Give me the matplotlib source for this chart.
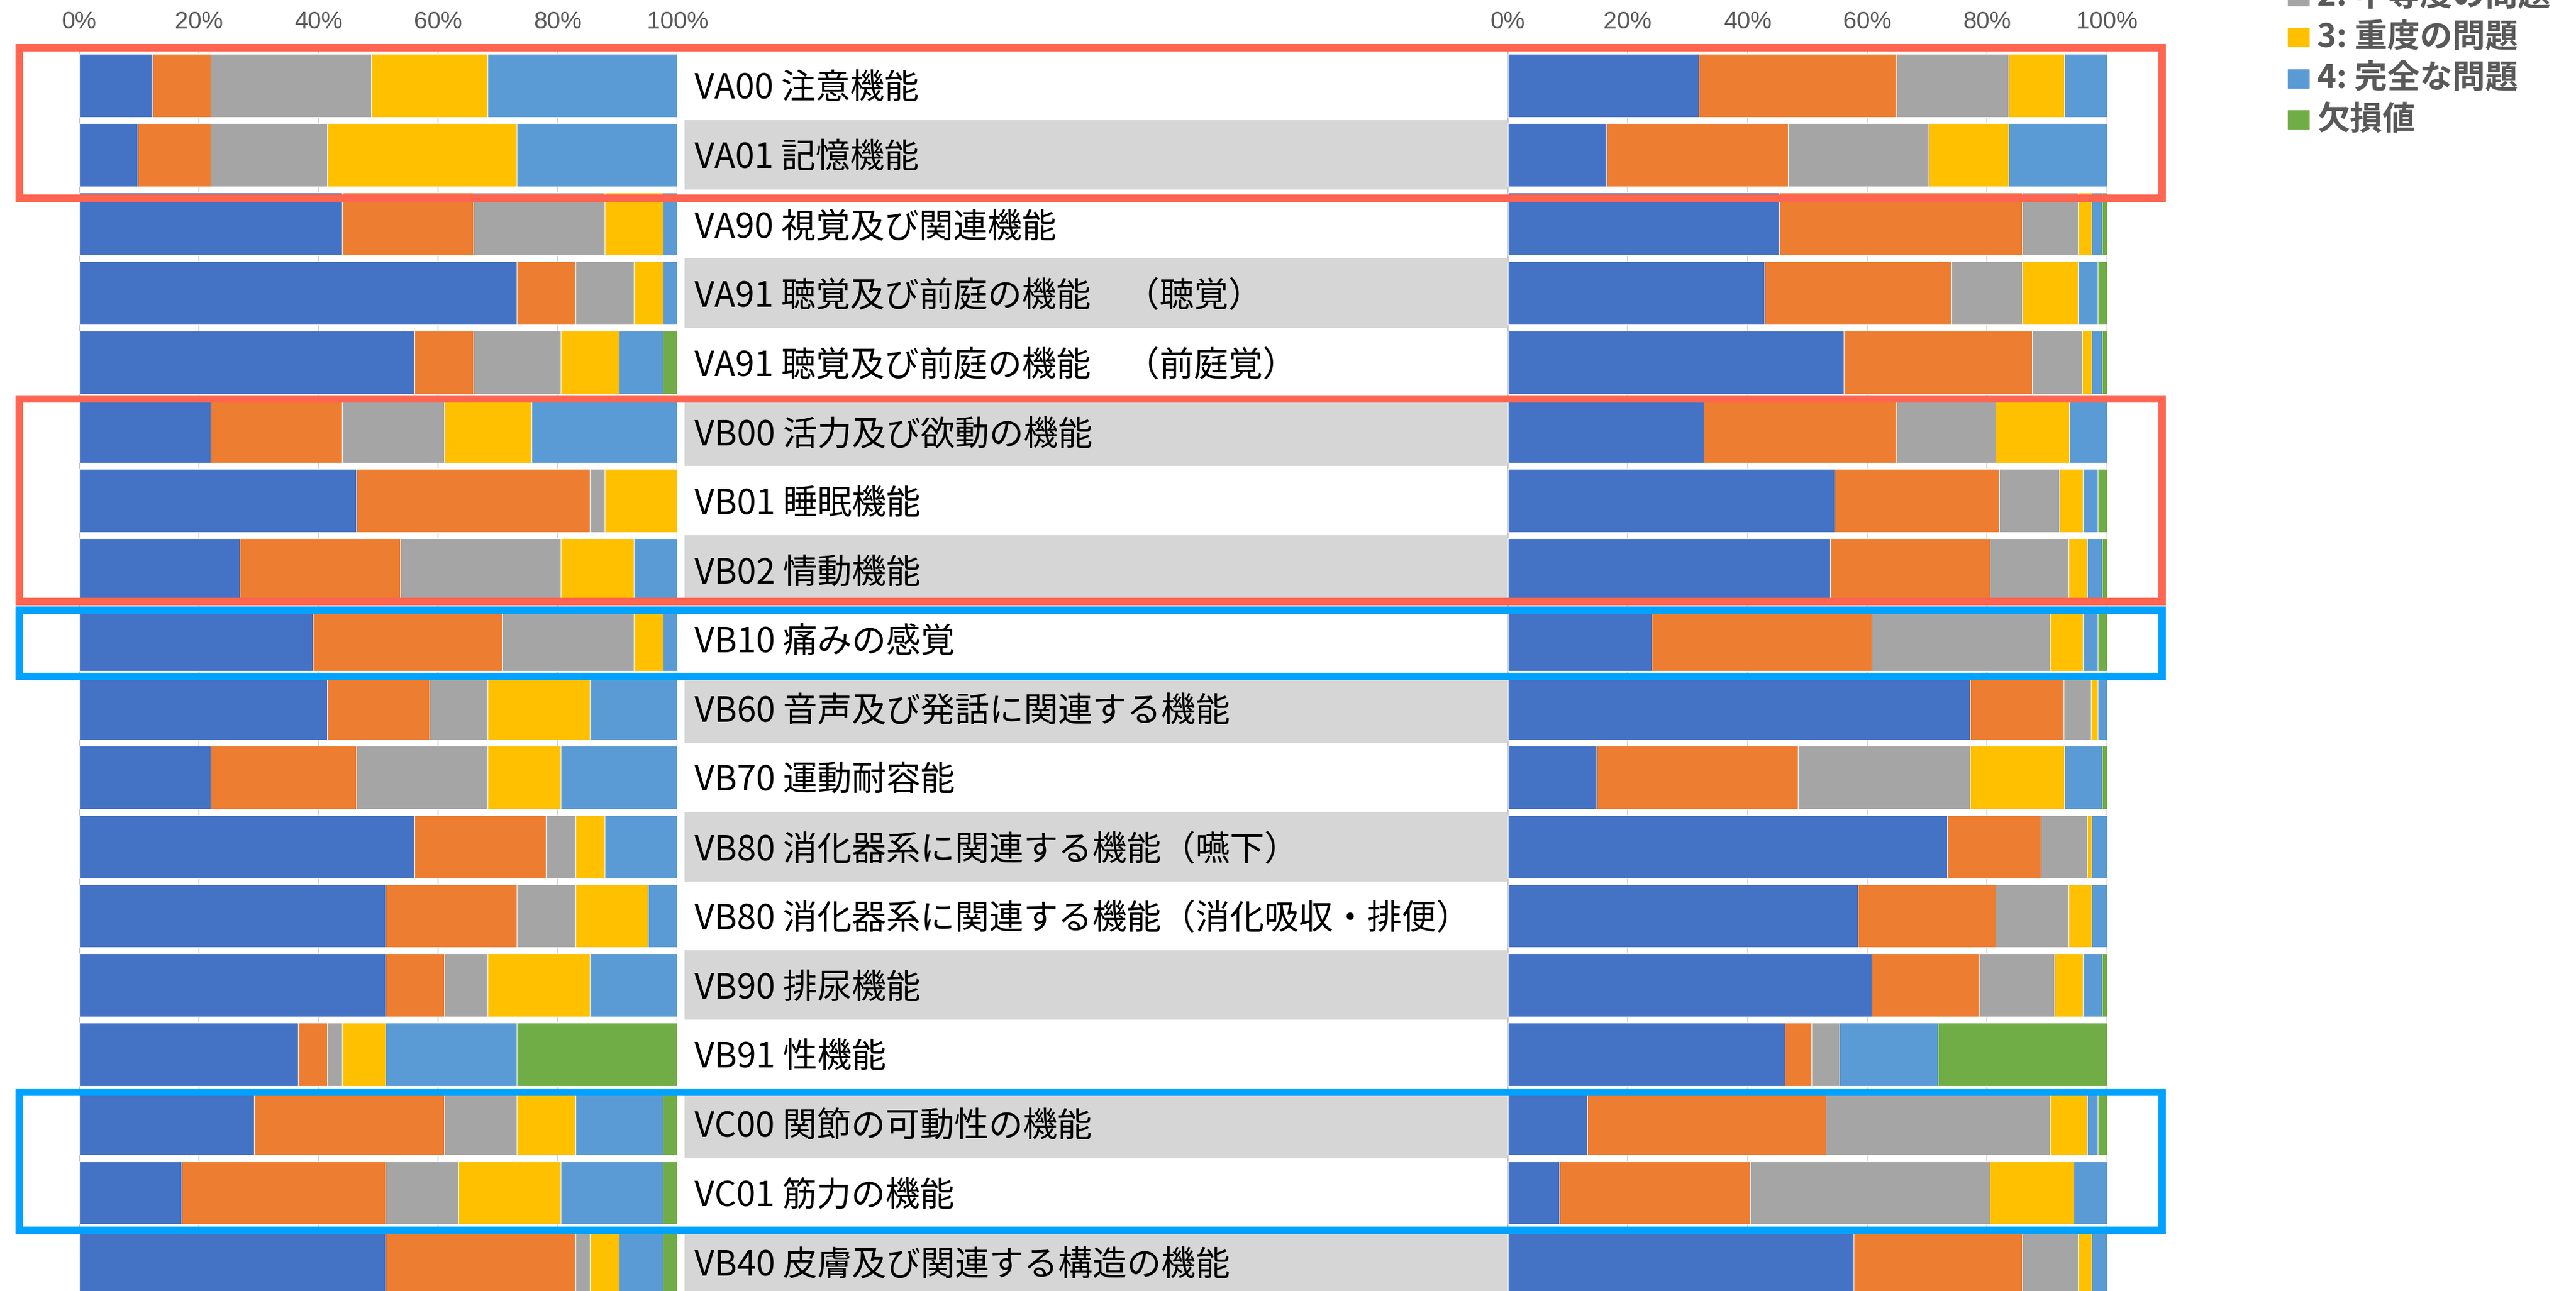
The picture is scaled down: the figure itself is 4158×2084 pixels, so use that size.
import numpy as np
import matplotlib
matplotlib.use('Agg')
import matplotlib.pyplot as plt
from matplotlib.patches import Rectangle
from matplotlib.transforms import blended_transform_factory

plt.rcParams['font.family'] = ['Noto Sans CJK JP', 'DejaVu Sans']

# ICF qualifier categories
levels = ['0: 問題なし', '1: 軽度の問題', '2: 中等度の問題', '3: 重度の問題', '4: 完全な問題', '欠損値']
colors = ['#4472C4', '#ED7D31', '#A5A5A5', '#FFC000', '#5B9BD5', '#70AD47']

items = [
    'VA00 注意機能',
    'VA01 記憶機能',
    'VA90 視覚及び関連機能',
    'VA91 聴覚及び前庭の機能　（聴覚）',
    'VA91 聴覚及び前庭の機能　（前庭覚）',
    'VB00 活力及び欲動の機能',
    'VB01 睡眠機能',
    'VB02 情動機能',
    'VB10 痛みの感覚',
    'VB60 音声及び発話に関連する機能',
    'VB70 運動耐容能',
    'VB80 消化器系に関連する機能（嚥下）',
    'VB80 消化器系に関連する機能（消化吸収・排便）',
    'VB90 排尿機能',
    'VB91 性機能',
    'VC00 関節の可動性の機能',
    'VC01 筋力の機能',
    'VB40 皮膚及び関連する構造の機能',
]

# left panel: counts per level (n = 41)
left_counts = np.array([
    [5, 4, 11, 8, 13, 0],
    [4, 5, 8, 13, 11, 0],
    [18, 9, 9, 4, 1, 0],
    [30, 4, 4, 2, 1, 0],
    [23, 4, 6, 4, 3, 1],
    [9, 9, 7, 6, 10, 0],
    [19, 16, 1, 5, 0, 0],
    [11, 11, 11, 5, 3, 0],
    [16, 13, 9, 2, 1, 0],
    [17, 7, 4, 7, 6, 0],
    [9, 10, 9, 5, 8, 0],
    [23, 9, 2, 2, 5, 0],
    [21, 9, 4, 5, 2, 0],
    [21, 4, 3, 7, 6, 0],
    [15, 2, 1, 3, 9, 11],
    [12, 13, 5, 4, 6, 1],
    [7, 14, 5, 7, 7, 1],
    [21, 13, 1, 2, 3, 1],
])

# right panel: percentages per level
right_pct = np.array([
    [31.9, 33.0, 18.7, 9.3, 7.1, 0.0],
    [16.4, 30.4, 23.5, 13.3, 16.4, 0.0],
    [45.3, 40.6, 9.3, 2.3, 1.7, 0.8],
    [42.8, 31.3, 11.8, 9.3, 3.3, 1.5],
    [56.1, 31.4, 8.4, 1.6, 1.7, 0.8],
    [32.7, 32.2, 16.5, 12.3, 6.3, 0.0],
    [54.5, 27.6, 10.0, 3.9, 2.5, 1.5],
    [53.8, 26.7, 13.1, 3.1, 2.5, 0.8],
    [24.0, 36.7, 29.8, 5.5, 2.5, 1.5],
    [77.2, 15.6, 4.6, 1.1, 1.5, 0.0],
    [14.8, 33.6, 28.8, 15.7, 6.3, 0.8],
    [73.4, 15.6, 7.7, 0.8, 2.5, 0.0],
    [58.5, 22.9, 12.2, 3.9, 2.5, 0.0],
    [60.7, 18.0, 12.6, 4.7, 3.2, 0.8],
    [46.2, 4.5, 4.7, 0.0, 16.4, 28.2],
    [13.2, 39.9, 37.4, 6.2, 1.8, 1.5],
    [8.6, 31.9, 40.0, 14.0, 5.5, 0.0],
    [57.7, 28.2, 9.3, 2.3, 2.5, 0.0],
])

# highlight boxes (row span top/bottom, colour)
boxes = [(-0.55, 1.63, '#FF6550'), (4.53, 7.46, '#FF6550'),
         (7.58, 8.54, '#00A2FF'), (14.55, 16.54, '#00A2FF')]

W, H = 4158, 2084
fig = plt.figure(figsize=(W / 100, H / 100), dpi=100)

n = len(items)
y = np.arange(n)
ylim = (17.42, -0.5)
ax_bottom = 0.0
ax_h = 1 - 82.2 / H


def panel(x0, x1, data):
    ax = fig.add_axes([x0 / W, ax_bottom, (x1 - x0) / W, ax_h])
    pct = data / data.sum(axis=1, keepdims=True) * 100
    left = np.zeros(n)
    for k in range(len(levels)):
        ax.barh(y, pct[:, k], left=left, height=0.91, color=colors[k],
                edgecolor='white', linewidth=0.6, zorder=3)
        left += pct[:, k]
    ax.set_xlim(0, 100)
    ax.set_ylim(*ylim)
    ax.set_xticks([0, 20, 40, 60, 80, 100])
    ax.set_xticklabels(['0%', '20%', '40%', '60%', '80%', '100%'],
                       fontsize=28, color='#595959', family=['Liberation Sans'])
    ax.xaxis.tick_top()
    ax.tick_params(axis='x', length=0, pad=20)
    ax.set_yticks([])
    ax.grid(axis='x', color='#D9D9D9', linewidth=1.5, zorder=0)
    ax.set_axisbelow(True)
    for s in ['top', 'right', 'bottom']:
        ax.spines[s].set_visible(False)
    ax.spines['left'].set_color('#BFBFBF')
    ax.spines['left'].set_linewidth(1.2)
    return ax


axL = panel(127.8, 1093.4, left_counts)
axR = panel(2434, 3400.5, right_pct)

# label column
axT = fig.add_axes([1105 / W, ax_bottom, (2434 - 1105) / W, ax_h])
axT.set_xlim(0, 1)
axT.set_ylim(*ylim)
axT.axis('off')
axT.barh(y[1::2], 1, left=0, height=1.0, color='#D6D6D6', zorder=1)
for i, name in enumerate(items):
    axT.text(0.012, i + 0.05, name, fontsize=40, va='center', ha='left', color='black', zorder=2)

# highlight frames
tr = blended_transform_factory(fig.transFigure, axL.transData)
for top, bot, col in boxes:
    fig.patches.append(Rectangle((31 / W, top), (3490 - 31) / W, bot - top,
                                 transform=tr, fill=False, edgecolor=col,
                                 linewidth=8.6, zorder=10))

# legend (top part runs off the canvas, as in the source)
for k, (lab, col) in enumerate(zip(levels, colors)):
    yc = 193 - (len(levels) - 1 - k) * 66.5
    fig.patches.append(Rectangle((3693 / W, 1 - (yc + 15) / H), 34 / W, 30 / H,
                                 transform=fig.transFigure, color=col))
    fig.text(3740 / W, 1 - yc / H, lab, fontsize=38, color='#595959',
             fontweight='bold', va='center', ha='left')

fig.savefig('out.png', dpi=100)
